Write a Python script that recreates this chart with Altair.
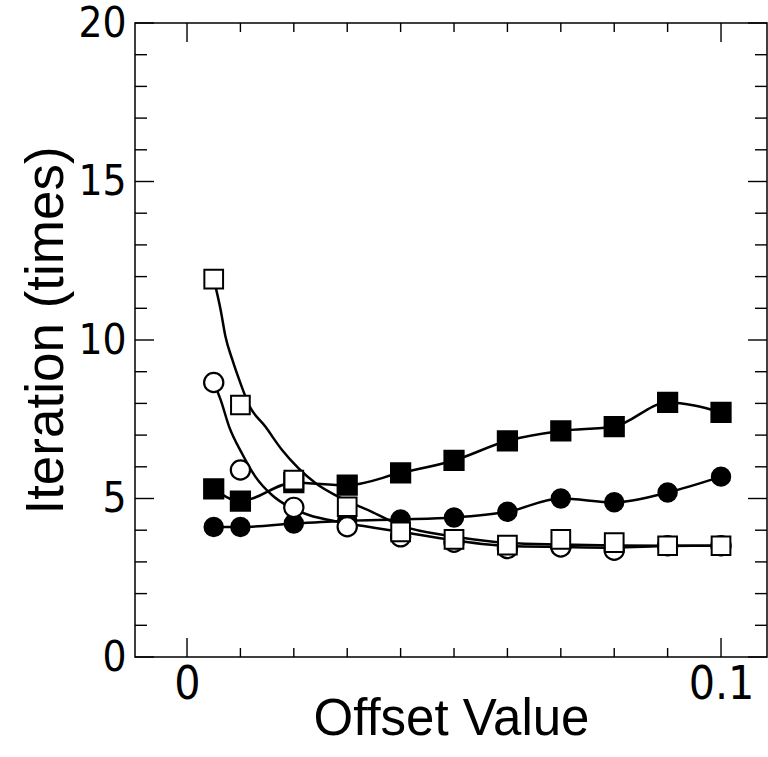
import altair as alt
import pandas as pd

# ---- data ----
x_vals = [0.005, 0.01, 0.02, 0.03, 0.04, 0.05, 0.06, 0.07, 0.08, 0.09, 0.1]
filled_sq = [5.30, 4.92, 5.50, 5.42, 5.81, 6.20, 6.82, 7.13, 7.27, 8.03, 7.72]
filled_ci = [4.10, 4.10, 4.21, 4.30, 4.34, 4.40, 4.58, 5.00, 4.88, 5.19, 5.69]
open_sq = [11.92, 7.95, 5.58, 4.74, 3.95, 3.71, 3.53, 3.71, 3.61, 3.51, 3.51]
open_ci = [8.66, 5.90, 4.72, 4.11, 3.79, 3.62, 3.42, 3.47, 3.37, 3.51, 3.51]

sq_curve_x = [0.005, 0.0063, 0.0072, 0.0085, 0.0100, 0.0116, 0.0147, 0.0178,
              0.0209, 0.0241, 0.0284, 0.035, 0.040, 0.050, 0.060, 0.070,
              0.080, 0.090, 0.100]
sq_curve_y = [11.92, 10.95, 10.11, 9.37, 8.64, 7.95, 7.26, 6.53,
              5.95, 5.48, 5.05, 4.55, 4.15, 3.80, 3.60, 3.55,
              3.52, 3.51, 3.51]
ci_curve_x = [0.005, 0.0063, 0.0079, 0.0103, 0.0128, 0.0159, 0.0191, 0.0228,
              0.0284, 0.035, 0.040, 0.050, 0.060, 0.070, 0.080, 0.090, 0.100]
ci_curve_y = [8.66, 8.11, 7.26, 6.42, 5.69, 5.11, 4.74, 4.48,
              4.26, 4.08, 3.95, 3.68, 3.50, 3.47, 3.45, 3.50, 3.51]

# tick positions
x_major = [0, 0.1]
x_minor = [0.01, 0.02, 0.03, 0.04, 0.05, 0.06, 0.07, 0.08, 0.09]
y_major = [0, 5, 10, 15, 20]
y_minor = [1, 2, 3, 4, 6, 7, 8, 9, 11, 12, 13, 14, 16, 17, 18, 19]

W, H = 632, 634
LABEL_FONT = "Liberation Sans Narrow, DejaVu Sans Condensed, Liberation Sans, sans-serif"
TITLE_FONT = "Liberation Sans, DejaVu Sans, sans-serif"

xscale = alt.Scale(domain=[-0.00974, 0.10861], nice=False, zero=False)
yscale = alt.Scale(domain=[0, 20], nice=False, zero=False)

xaxis = alt.Axis(values=x_major, format="~g", ticks=False, domain=False, grid=False,
                 labelFont=LABEL_FONT, labelFontSize=46, labelPadding=5,
                 labelColor="black", labelFlush=False,
                 title="Offset Value", titleFont=TITLE_FONT, titleFontSize=51,
                 titleFontWeight="normal", titleColor="black",
                 titleBaseline="alphabetic", titleY=77)
yaxis = alt.Axis(values=y_major, format="d", ticks=False, domain=False, grid=False,
                 labelFont=LABEL_FONT, labelFontSize=42, labelPadding=9,
                 labelColor="black", labelFlush=False,
                 title="Iteration (times)", titleFont=TITLE_FONT, titleFontSize=53,
                 titleFontWeight="normal", titleColor="black",
                 titleBaseline="alphabetic", titleX=-73, titleY=307)

X = alt.X("x:Q", scale=xscale, axis=xaxis)
Y = alt.Y("y:Q", scale=yscale, axis=yaxis)

def df(xs, ys):
    return pd.DataFrame({"x": xs, "y": ys})

TICK = dict(color="black", strokeWidth=1.4)

# ticks (inward) on all four sides
xt = []
for vals, ln in ((x_minor, 9), (x_major, 19)):
    d = pd.DataFrame({"x": vals})
    xt.append(alt.Chart(d).mark_rule(**TICK).encode(x=X, y=alt.value(H), y2=alt.value(H - ln)))
    xt.append(alt.Chart(d).mark_rule(**TICK).encode(x=X, y=alt.value(0), y2=alt.value(ln)))
yt = []
for vals, ln in ((y_minor, 12), (y_major, 19)):
    d = pd.DataFrame({"y": vals})
    yt.append(alt.Chart(d).mark_rule(**TICK).encode(y=Y, x=alt.value(0), x2=alt.value(ln)))
    yt.append(alt.Chart(d).mark_rule(**TICK).encode(y=Y, x=alt.value(W), x2=alt.value(W - ln)))

LINE = dict(color="black", strokeWidth=2.5, interpolate="monotone")
lines = [
    alt.Chart(df(x_vals, filled_sq)).mark_line(**LINE).encode(x=X, y=Y),
    alt.Chart(df(x_vals, filled_ci)).mark_line(**LINE).encode(x=X, y=Y),
    alt.Chart(df(sq_curve_x, sq_curve_y)).mark_line(**LINE).encode(x=X, y=Y),
    alt.Chart(df(ci_curve_x, ci_curve_y)).mark_line(**LINE).encode(x=X, y=Y),
]

pts = [
    alt.Chart(df(x_vals, filled_ci)).mark_point(shape="circle", filled=True, size=340,
        fill="black", stroke="black", opacity=1).encode(x=X, y=Y),
    alt.Chart(df(x_vals, filled_sq)).mark_point(shape="square", filled=True, size=370,
        fill="black", stroke="black", opacity=1).encode(x=X, y=Y),
    alt.Chart(df(x_vals, open_ci)).mark_point(shape="circle", filled=True, size=370,
        fill="white", stroke="black", strokeWidth=2.2, opacity=1).encode(x=X, y=Y),
    alt.Chart(df(x_vals, open_sq)).mark_point(shape="square", filled=True, size=350,
        fill="white", stroke="black", strokeWidth=2, opacity=1).encode(x=X, y=Y),
]

chart = alt.layer(*xt, *yt, *lines, *pts).properties(
    width=W, height=H,
    padding={"left": 135, "top": 23, "right": 1, "bottom": 757 - 23 - H},
    autosize=alt.AutoSizeParams(type="none"),
    background="white",
).configure_view(stroke="black", strokeWidth=1.5)

chart.save("out.html", embed_options={"renderer": "svg", "actions": False})
